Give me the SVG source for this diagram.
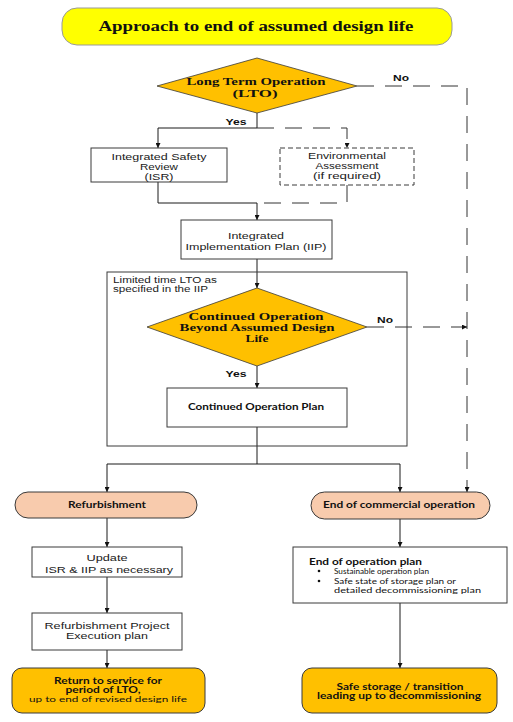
<svg xmlns="http://www.w3.org/2000/svg" width="513" height="722" viewBox="0 0 513 722">
<defs>
<style>
.box{fill:#fff;stroke:#3a3a3a;stroke-width:1}
.dbox{fill:#fff;stroke:#3a3a3a;stroke-width:1;stroke-dasharray:5,3}
.dia{fill:#FFC000;stroke:#3a3a3a;stroke-width:0.8;stroke-linejoin:round}
.pill{fill:#F8CBAD;stroke:#3a3a3a;stroke-width:1}
.gold{fill:#FFC000;stroke:#3a3a3a;stroke-width:1}
.ln{fill:none;stroke:#1a1a1a;stroke-width:1}
.dl{fill:none;stroke:#333;stroke-width:1;stroke-dasharray:17,11}
.s{font-family:"Liberation Sans",Arial,sans-serif;font-size:9px;fill:#1a1a1a;text-anchor:middle}
.c{font-family:Lato,"Open Sans",sans-serif;font-size:8px;fill:#111;text-anchor:middle}
.cb{font-family:Lato,"Open Sans",sans-serif;font-size:8.5px;font-weight:bold;fill:#111;text-anchor:middle}
.t{font-family:"Liberation Serif","Times New Roman",serif;font-weight:bold;fill:#111;text-anchor:middle}
.lb{font-family:"Liberation Sans",Arial,sans-serif;font-size:8.5px;font-weight:bold;fill:#111;text-anchor:middle}
</style>
<marker id="ah" viewBox="0 0 10 10" refX="10" refY="5" markerWidth="5" markerHeight="5" orient="auto" markerUnits="userSpaceOnUse">
<path d="M0,0 L10,5 L0,10 z" fill="#111"/>
</marker>
</defs>
<rect width="513" height="722" fill="#fff"/>

<g id="title">
<rect x="62" y="8" width="390" height="37" rx="15" fill="#FFFF00" stroke="#999" stroke-width="1"/>
<text class="t" x="256" y="31" font-size="14" textLength="315" lengthAdjust="spacingAndGlyphs">Approach to end of assumed design life</text>
</g>

<g id="connectors">
<polyline class="ln" points="257,113 257,128 158,128 158,148" marker-end="url(#ah)"/>
<polyline class="dl" points="257,128 347,128 347,148" marker-end="url(#ah)"/>
<polyline class="ln" points="158,182 158,203 257,203 257,220" marker-end="url(#ah)"/>
<polyline class="dl" points="347,185 347,203 257,203"/>
<polyline class="ln" points="257,259 257,288" marker-end="url(#ah)"/>
<polyline class="ln" points="257,366 257,388" marker-end="url(#ah)"/>
<polyline class="ln" points="257,427 257,464"/>
<polyline class="ln" points="107,464 400,464"/>
<polyline class="ln" points="107,464 107,492" marker-end="url(#ah)"/>
<polyline class="ln" points="400,464 400,492" marker-end="url(#ah)"/>
<polyline class="dl" points="357,86 467,86 467,492" marker-end="url(#ah)"/>
<polyline class="dl" points="367,327 467,327" marker-end="url(#ah)"/>
<polyline class="ln" points="107,518 107,547" marker-end="url(#ah)"/>
<polyline class="ln" points="107,577 107,613" marker-end="url(#ah)"/>
<polyline class="ln" points="107,650 107,668" marker-end="url(#ah)"/>
<polyline class="ln" points="400,519 400,547" marker-end="url(#ah)"/>
<polyline class="ln" points="400,603 400,668" marker-end="url(#ah)"/>
<text class="lb" x="236" y="125" textLength="21" lengthAdjust="spacingAndGlyphs">Yes</text>
<text class="lb" x="401" y="81" textLength="16" lengthAdjust="spacingAndGlyphs">No</text>
<text class="lb" x="236" y="377" textLength="21" lengthAdjust="spacingAndGlyphs">Yes</text>
<text class="lb" x="385" y="323" textLength="16" lengthAdjust="spacingAndGlyphs">No</text>
</g>

<g id="lto">
<polygon class="dia" points="257,58 357,86 257,113 157,86"/>
<text class="t" x="256" y="85" font-size="10.5" textLength="139" lengthAdjust="spacingAndGlyphs">Long Term Operation</text>
<text class="t" x="255" y="97" font-size="10.5" textLength="45" lengthAdjust="spacingAndGlyphs">(LTO)</text>
</g>

<g id="isr">
<rect class="box" x="91" y="148" width="136" height="34"/>
<text class="s" x="159" y="160" textLength="95" lengthAdjust="spacingAndGlyphs">Integrated Safety</text>
<text class="s" x="159" y="170" textLength="38" lengthAdjust="spacingAndGlyphs">Review</text>
<text class="s" x="159" y="180" textLength="29" lengthAdjust="spacingAndGlyphs">(ISR)</text>
</g>

<g id="ea">
<rect class="dbox" x="280" y="148" width="134" height="37"/>
<text class="s" x="347" y="159" textLength="78" lengthAdjust="spacingAndGlyphs">Environmental</text>
<text class="s" x="347" y="169" textLength="63" lengthAdjust="spacingAndGlyphs">Assessment</text>
<text class="s" x="347" y="179" textLength="68" lengthAdjust="spacingAndGlyphs">(if required)</text>
</g>

<g id="iip">
<rect class="box" x="181" y="220" width="151" height="39"/>
<text class="s" x="256" y="239" textLength="56" lengthAdjust="spacingAndGlyphs">Integrated</text>
<text class="s" x="256" y="250" textLength="141" lengthAdjust="spacingAndGlyphs">Implementation Plan (IIP)</text>
</g>

<g id="limited">
<rect x="107" y="272" width="300" height="174" fill="none" stroke="#3a3a3a" stroke-width="1"/>
<text class="s" x="113" y="283" style="text-anchor:start;font-size:8.5px" textLength="104" lengthAdjust="spacingAndGlyphs">Limited time LTO as</text>
<text class="s" x="113" y="292" style="text-anchor:start;font-size:8.5px" textLength="95" lengthAdjust="spacingAndGlyphs">specified in the IIP</text>
</g>

<g id="continued">
<polygon class="dia" points="257,288 367,327 257,366 147,327"/>
<text class="t" x="256" y="320" font-size="10" textLength="135" lengthAdjust="spacingAndGlyphs">Continued Operation</text>
<text class="t" x="257" y="331" font-size="10" textLength="155" lengthAdjust="spacingAndGlyphs">Beyond Assumed Design</text>
<text class="t" x="257" y="342" font-size="10" textLength="23" lengthAdjust="spacingAndGlyphs">Life</text>
</g>

<g id="cop">
<rect class="box" x="167" y="388" width="180" height="39"/>
<text class="cb" x="256" y="410" textLength="136" lengthAdjust="spacingAndGlyphs">Continued Operation Plan</text>
</g>

<g id="refurb">
<rect class="pill" x="15" y="492" width="182" height="26" rx="13"/>
<text class="cb" x="107" y="508" textLength="78" lengthAdjust="spacingAndGlyphs">Refurbishment</text>
</g>

<g id="eoco">
<rect class="pill" x="311" y="492" width="179" height="27" rx="13.5"/>
<text class="cb" x="399" y="508" textLength="152" lengthAdjust="spacingAndGlyphs">End of commercial operation</text>
</g>

<g id="update">
<rect class="box" x="32" y="547" width="150" height="30"/>
<text class="s" x="107" y="561" textLength="41" lengthAdjust="spacingAndGlyphs">Update</text>
<text class="s" x="109" y="573" textLength="128" lengthAdjust="spacingAndGlyphs">ISR &amp; IIP as necessary</text>
</g>

<g id="eop">
<rect class="box" x="293" y="547" width="214" height="56"/>
<text class="cb" x="309" y="565" style="text-anchor:start" textLength="113" lengthAdjust="spacingAndGlyphs">End of operation plan</text>
<circle cx="319" cy="571" r="1.3" fill="#111"/>
<circle cx="319" cy="581" r="1.3" fill="#111"/>
<text class="c" x="334" y="574" style="text-anchor:start" textLength="95" lengthAdjust="spacingAndGlyphs">Sustainable operation plan</text>
<text class="c" x="334" y="584" style="text-anchor:start" textLength="122" lengthAdjust="spacingAndGlyphs">Safe state of storage plan or</text>
<text class="c" x="334" y="593" style="text-anchor:start" textLength="147" lengthAdjust="spacingAndGlyphs">detailed decommissioning plan</text>
</g>

<g id="rpep">
<rect class="box" x="32" y="613" width="150" height="37"/>
<text class="s" x="107" y="629" textLength="125" lengthAdjust="spacingAndGlyphs">Refurbishment Project</text>
<text class="s" x="107" y="639" textLength="82" lengthAdjust="spacingAndGlyphs">Execution plan</text>
</g>

<g id="return">
<rect class="gold" x="12" y="668" width="193" height="45" rx="10"/>
<text class="cb" x="108" y="684" textLength="108" lengthAdjust="spacingAndGlyphs">Return to service for</text>
<text class="cb" x="103" y="693" textLength="75" lengthAdjust="spacingAndGlyphs">period of LTO,</text>
<text class="c" x="108" y="702" textLength="158" lengthAdjust="spacingAndGlyphs">up to end of revised design life</text>
</g>

<g id="safe">
<rect class="gold" x="302" y="668" width="195" height="45" rx="10"/>
<text class="cb" x="400" y="690" textLength="127" lengthAdjust="spacingAndGlyphs">Safe storage / transition</text>
<text class="cb" x="399" y="699" textLength="164" lengthAdjust="spacingAndGlyphs">leading up to decommissioning</text>
</g>
</svg>
